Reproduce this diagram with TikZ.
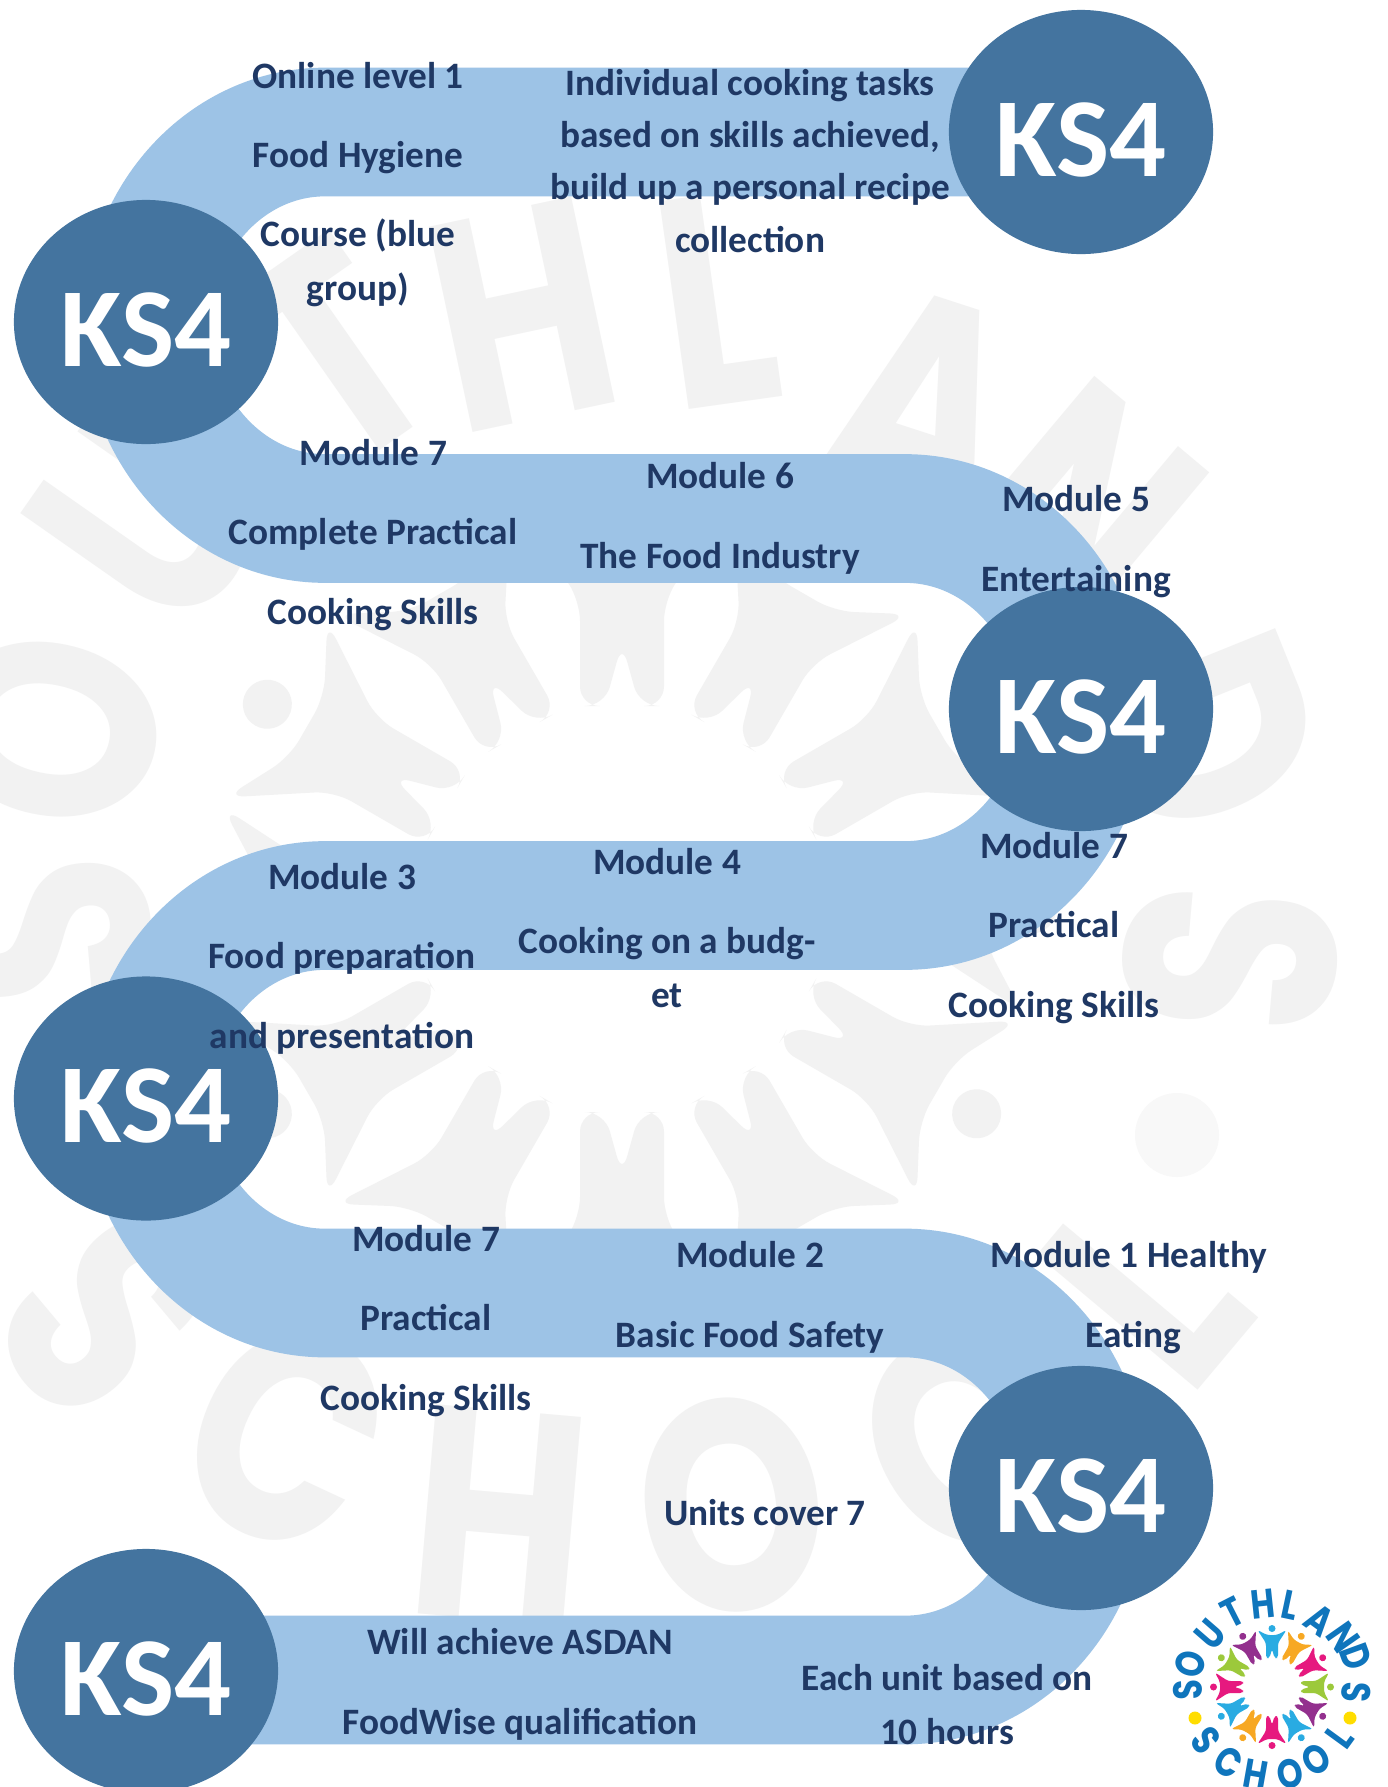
\documentclass[tikz,border=0pt]{standalone}
\usepackage{fontspec}
\setmainfont{Carlito}
\newfontfamily\logofont{Poppins}
\usetikzlibrary{shapes.geometric}
\definecolor{ribbonblue}{HTML}{9DC3E6}
\definecolor{stageblue}{HTML}{44749F}
\definecolor{labelnavy}{HTML}{1F3864}
\definecolor{wmgrey}{HTML}{F2F2F2}
\definecolor{wmdot}{HTML}{F8F8F8}
\definecolor{logoblue}{HTML}{0F75BC}
\definecolor{ppcyan}{HTML}{29ABE2}
\definecolor{pporange}{HTML}{F7A823}
\definecolor{pppink}{HTML}{E6197F}
\definecolor{ppgreen}{HTML}{9CC93B}
\definecolor{pppurple}{HTML}{93308E}
\definecolor{logoyellow}{HTML}{FFDD00}
\tikzset{
	stage/.style={ellipse,fill=stageblue,text=white,inner sep=0pt,minimum width=2.64cm,minimum height=2.44cm,text height=25.2pt,text depth=0pt,font=\bfseries\fontsize{32}{32}\selectfont},
	stagelabel/.style={anchor=base,align=center,inner sep=0pt,text=labelnavy,font=\bfseries\fontsize{10.6}{15.1}\selectfont},
	wmletter/.style={inner sep=0pt,text=wmgrey,font=\logofont\bfseries\fontsize{85}{85}\selectfont},
	logoletter/.style={inner sep=0pt,text=logoblue,font=\logofont\bfseries\fontsize{11}{11}\selectfont}
}
\newcommand{\peoplering}[4]{
	\foreach \ang/\col in {0/ppcyan,30/pporange,60/pppink,90/ppgreen,120/pppurple,150/ppcyan,180/pppink,210/pporange,240/ppcyan,270/pppink,300/ppgreen,330/pppurple}{
		\fill[\col,#4,shift={(#1,#2)},rotate=-\ang,scale=#3,rounded corners=#3*0.8pt] (-14.5,-57)--(-5,-52)--(5,-52)--(14.5,-57)--(6,-44)--(6,-29)--(2.5,-29)--(0,-38)--(-2.5,-29)--(-6,-29)--(-6,-44)--cycle;
		\fill[\col,#4,shift={(#1,#2)},rotate=-\ang,scale=#3] (0,-58.5)circle(3.5);
	}
}
\begin{document}
\begin{tikzpicture}[x=0.01cm,y=-0.01cm]
	\clip (0,0) rectangle (1388,1787);
	\fill[white] (0,0) rectangle (1388,1787);
	% watermark
	\peoplering{622}{909}{7}{wmgrey}
	\foreach \ch/\px/\py/\rot [count=\n] in {S/44/930/95,O/50/730/78,U/148/517/55,T/336/353/35,H/522/315/12,L/716/300/8,A/925/403/-18,N/1085/505/-40,D/1205/735/-68,S/1230/960/-95,S/106/1313/-50,C/287/1435/-25,H/500/1516/-5,O/732/1505/8,O/965/1440/30,L/1145/1290/50}{
		\node[wmletter,rotate=\rot] (wm\n) at (\px,\py) {\scalebox{0.8}[1]{\ch}};
	}
	\fill[wmdot] (1177,1135)circle(42) (67,1135)circle(42);
	% ribbon
	\draw[ribbonblue,line width=36.6pt] (1081,132)--(325,132)
		.. controls (226.7,132) and (147,218.9) .. (147,325.25)
		.. controls (147,431.6) and (226.7,518.5) .. (325,518.5)--(905,518.5)
		.. controls (1003.3,518.5) and (1083,605) .. (1083,712)
		.. controls (1083,819) and (1003.3,905.5) .. (905,905.5)--(325,905.5)
		.. controls (226.7,905.5) and (147,992.2) .. (147,1099.25)
		.. controls (147,1206.3) and (226.7,1293) .. (325,1293)--(905,1293)
		.. controls (1003.3,1293) and (1083,1379.7) .. (1083,1486.5)
		.. controls (1083,1593.3) and (1003.3,1680) .. (905,1680)--(146,1680);
	% stages
	\node[stage] (ks1) at (1081,132) {KS4};
	\node[stage] (ks2) at (146,322) {KS4};
	\node[stage] (ks3) at (1081,709) {KS4};
	\node[stage] (ks4) at (146,1098.5) {KS4};
	\node[stage] (ks5) at (1081,1488) {KS4};
	\node[stage] (ks6) at (146,1671) {KS4};
	% labels
	\node[stagelabel] (hygiene) at (358,300) {Online level 1\\[7.4pt]Food Hygiene\\[7.4pt]Course (blue\\group)};
	\node[stagelabel] (tasks) at (750,252) {Individual cooking tasks\\[-0.3pt]based on skills achieved,\\[-0.3pt]build up a personal recipe\\[-0.3pt]collection};
	\node[stagelabel] (mod7a) at (373,624) {Module 7\\[7.4pt]Complete Practical\\[7.4pt]Cooking Skills};
	\node[stagelabel] (mod6) at (720,568) {Module 6\\[7.4pt]The Food Industry};
	\node[stagelabel] (mod5) at (1076,591) {Module 5\\[7.4pt]Entertaining};
	\node[stagelabel] (mod4) at (667,1007) {Module 4\\[7.4pt]Cooking on a budg-\\et};
	\node[stagelabel] (mod7b) at (1054,1017) {Module 7\\[7.4pt]Practical\\[7.4pt]Cooking Skills};
	\node[stagelabel] (mod3) at (342,1048) {Module 3\\[7.4pt]Food preparation\\[7.4pt]and presentation};
	\node[stagelabel] (mod7c) at (426,1410) {Module 7\\[7.4pt]Practical\\[7.4pt]Cooking Skills};
	\node[stagelabel] (mod2) at (750,1347) {Module 2\\[7.4pt]Basic Food Safety};
	\node[stagelabel] (mod1) at (1129,1347) {Module 1 Healthy\\[7.4pt]\hspace*{2.6pt}Eating};
	\node[stagelabel] (units) at (765,1525) {Units cover 7};
	\node[stagelabel] (asdan) at (520,1734) {Will achieve ASDAN\\[7.4pt]FoodWise qualification};
	\node[stagelabel] (hours) at (947,1744) {Each unit based on\\10 hours};
	% logo
	\peoplering{1272}{1687}{1}{}
	\foreach \ch/\px/\py/\rot [count=\n] in {S/-84/3/92,O/-82/-23/74,U/-62/-53/49,T/-39/-75/27,H/-9/-83/6,L/18/-82/-12,A/48/-67/-36,N/71/-50/-55,D/84/-30/-70,S/84/5/-93,S/-66/53/-51,C/-44/75/-30,H/-16/88/-10,O/18/87/12,O/44/73/31,L/68/50/54}{
		\node[logoletter,rotate=\rot] (logo\n) at (1272+\px,1687+\py) {\scalebox{0.85}[1.05]{\ch}};
	}
	\fill[logoyellow] (1272-77,1687+31)circle(6.5) (1272+78,1687+31)circle(6.5);
\end{tikzpicture}
\end{document}
